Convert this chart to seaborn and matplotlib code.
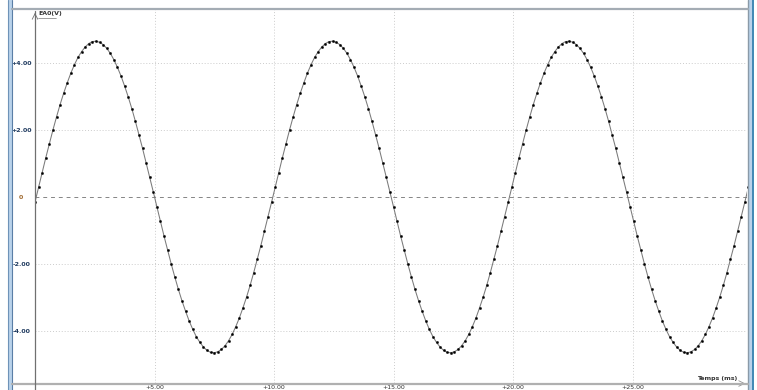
import matplotlib
matplotlib.use("Agg")
import matplotlib.pyplot as plt
import seaborn as sns
import numpy as np
import pandas as pd
from matplotlib.lines import Line2D
from matplotlib.patches import Rectangle

# ---- data ----
sample_interval_ms = 0.15
ea0_volts = [
    -0.15, 0.29, 0.73, 1.17, 1.59, 2.00, 2.39, 2.76, 3.10, 3.41, 3.70, 3.95, 4.17, 4.34, 4.48, 4.58, 4.64, 4.65,
    4.62, 4.55, 4.44, 4.29, 4.10, 3.87, 3.61, 3.31, 2.99, 2.64, 2.26, 1.86, 1.45, 1.02, 0.59, 0.15,
    -0.29, -0.73, -1.17, -1.59, -2.00, -2.39, -2.76, -3.10, -3.41, -3.70, -3.95, -4.17, -4.34, -4.48, -4.58, -4.64, -4.65,
    -4.62, -4.55, -4.44, -4.29, -4.10, -3.87, -3.61, -3.31, -2.99, -2.64, -2.26, -1.86, -1.45, -1.02, -0.59,
    -0.15, 0.29, 0.73, 1.17, 1.59, 2.00, 2.39, 2.76, 3.10, 3.41, 3.70, 3.95, 4.17, 4.34, 4.48, 4.58, 4.64, 4.65,
    4.62, 4.55, 4.44, 4.29, 4.10, 3.87, 3.61, 3.31, 2.99, 2.64, 2.26, 1.86, 1.45, 1.02, 0.59, 0.15,
    -0.29, -0.73, -1.17, -1.59, -2.00, -2.39, -2.76, -3.10, -3.41, -3.70, -3.95, -4.17, -4.34, -4.48, -4.58, -4.64, -4.65,
    -4.62, -4.55, -4.44, -4.29, -4.10, -3.87, -3.61, -3.31, -2.99, -2.64, -2.26, -1.86, -1.45, -1.02, -0.59,
    -0.15, 0.29, 0.73, 1.17, 1.59, 2.00, 2.39, 2.76, 3.10, 3.41, 3.70, 3.95, 4.17, 4.34, 4.48, 4.58, 4.64, 4.65,
    4.62, 4.55, 4.44, 4.29, 4.10, 3.87, 3.61, 3.31, 2.99, 2.64, 2.26, 1.86, 1.45, 1.02, 0.59, 0.15,
    -0.29, -0.73, -1.17, -1.59, -2.00, -2.39, -2.76, -3.10, -3.41, -3.70, -3.95, -4.17, -4.34, -4.48, -4.58, -4.64, -4.65,
    -4.62, -4.55, -4.44, -4.29, -4.10, -3.87, -3.61, -3.31, -2.99, -2.64, -2.26, -1.86, -1.45, -1.02, -0.59,
    -0.15, 0.29,
]
x_ticks = [5, 10, 15, 20, 25]
x_tick_labels = ["+5.00", "+10.00", "+15.00", "+20.00", "+25.00"]
y_ticks = [-4, -2, 0, 2, 4]
y_tick_labels = ["-4.00", "-2.00", "0", "+2.00", "+4.00"]
y_label = "EA0(V)"
x_label = "Temps (ms)"

times_ms = np.round(np.arange(len(ea0_volts)) * sample_interval_ms, 3)
df = pd.DataFrame({"t": times_ms, "v": ea0_volts})

sns.set_style("white")
plt.rcParams["font.family"] = ["DejaVu Sans"]

W, H = 757, 390
fig = plt.figure(figsize=(W / 100, H / 100), dpi=100)
fig.patch.set_facecolor("white")

def fx(x):
    return x / W

def fy(y):
    return 1 - y / H

ax_left, ax_right, ax_top, ax_bot = 35, 747, 9, 383
ax = fig.add_axes([fx(ax_left), fy(ax_bot), fx(ax_right - ax_left), (ax_bot - ax_top) / H])
ax.set_facecolor("white")

sns.lineplot(data=df, x="t", y="v", ax=ax, color="#7a7a7a", linewidth=0.75,
             marker="o", markersize=1.6, markerfacecolor="black", markeredgecolor="black",
             markeredgewidth=0.3, estimator=None, legend=False, zorder=3)

x_max = (ax_right - ax_left) / 23.9
ax.set_xlim(0, x_max)
y_per_px = 4 / 134.0
ax.set_ylim(-(ax_bot - 197) * y_per_px, (197 - ax_top) * y_per_px)

for s in ax.spines.values():
    s.set_visible(False)

# grid
for xt in x_ticks:
    ax.axvline(xt, color="#cccccc", linestyle=(0, (1, 2)), linewidth=0.7, zorder=1)
for yt in y_ticks:
    if yt != 0:
        ax.axhline(yt, color="#cccccc", linestyle=(0, (1, 2)), linewidth=0.7, zorder=1)
ax.axhline(0, color="#858585", linestyle=(0, (4, 4)), linewidth=0.7, zorder=2)

ax.set_xticks(x_ticks)
ax.set_xticklabels(x_tick_labels, fontsize=4.5, color="#333333")
ax.set_yticks(y_ticks)
ax.set_yticklabels(y_tick_labels, fontsize=4.5, color="#1f3a5f", fontweight="bold")
for lab in ax.get_yticklabels():
    lab.set_horizontalalignment("center")
    if lab.get_text() == "0":
        lab.set_color("#a06a30")
ax.tick_params(axis="y", length=0, pad=10)
ax.tick_params(axis="x", length=0, pad=1.5)
ax.set_xlabel("")
ax.set_ylabel("")

# frame decorations
fig.add_artist(Rectangle((fx(8), 0), fx(4), 1, transform=fig.transFigure,
                         facecolor="#b9d2ea", edgecolor="none", zorder=5))
fig.add_artist(Line2D([fx(8), fx(8)], [0, 1], transform=fig.transFigure, color="#6f93b8", lw=0.8, zorder=6))
fig.add_artist(Line2D([fx(12), fx(12)], [0, 1], transform=fig.transFigure, color="#5a7ea6", lw=0.8, zorder=6))
fig.add_artist(Rectangle((fx(748), 0), fx(5), 1, transform=fig.transFigure,
                         facecolor="#b9d2ea", edgecolor="none", zorder=5))
fig.add_artist(Line2D([fx(748), fx(748)], [0, 1], transform=fig.transFigure, color="#8a9aa8", lw=1.0, zorder=6))
fig.add_artist(Line2D([fx(752.5), fx(752.5)], [0, 1], transform=fig.transFigure, color="#3f88b5", lw=1.4, zorder=6))
fig.add_artist(Line2D([fx(12), fx(748)], [fy(9), fy(9)], transform=fig.transFigure, color="#a4acb4", lw=1.6, zorder=6))
# axes lines
fig.add_artist(Line2D([fx(12), fx(748)], [fy(383.5), fy(383.5)], transform=fig.transFigure, color="#b0b0b0", lw=1.6, zorder=6))
fig.add_artist(Line2D([fx(35), fx(35)], [fy(11), fy(390)], transform=fig.transFigure, color="#707070", lw=0.9, zorder=6))
ax.annotate("", xy=(fx(35), fy(10)), xytext=(fx(35), fy(18)), xycoords="figure fraction",
            arrowprops=dict(arrowstyle="->", color="#707070", lw=0.6))
ax.annotate("", xy=(fx(748), fy(383.5)), xytext=(fx(738), fy(383.5)), xycoords="figure fraction",
            arrowprops=dict(arrowstyle="->", color="#909090", lw=0.6))

fig.text(fx(38), fy(14), y_label, fontsize=4.5, color="#333333", fontweight="bold",
         ha="left", va="center")
fig.add_artist(Line2D([fx(38), fx(56)], [fy(17.5), fy(17.5)], transform=fig.transFigure, color="#555555", lw=0.4))
fig.text(fx(737), fy(378.5), x_label, fontsize=4.5, color="#333333", fontweight="bold",
         ha="right", va="center")

fig.savefig("out.png", dpi=100, facecolor="white")
